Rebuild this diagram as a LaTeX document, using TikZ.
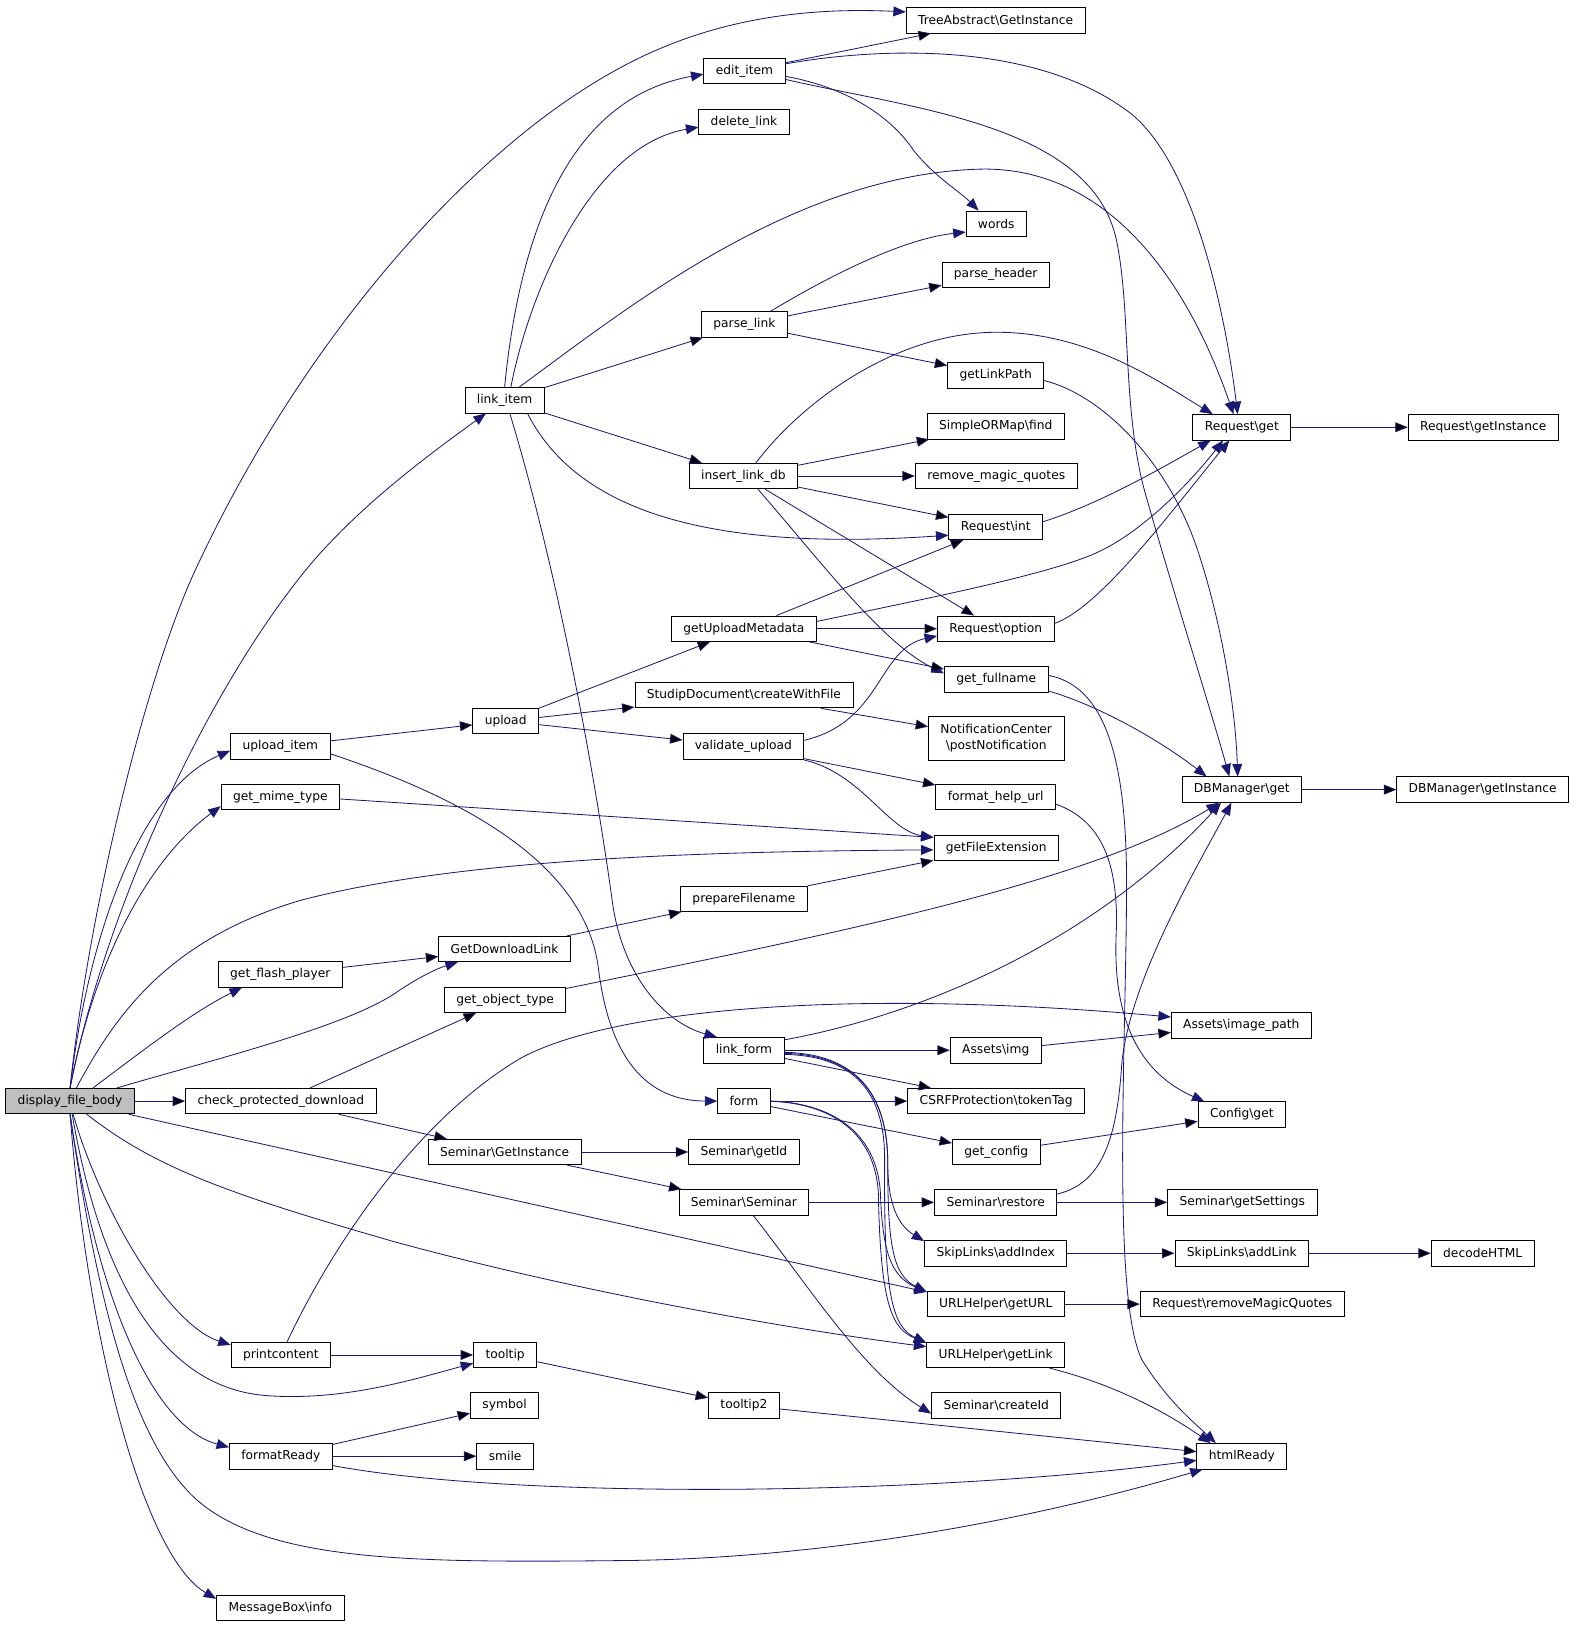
\documentclass[tikz,border=0pt]{standalone}
\usepackage{fontspec}
\setmainfont{DejaVu Sans}
\usetikzlibrary{arrows.meta}
\definecolor{edgeblue}{RGB}{25,25,112}
\tikzset{
  fn/.style={draw=black, line width=0.8pt, fill=white, inner xsep=11.5pt, inner ysep=3pt,
    minimum height=24.5pt, font=\fontsize{11.8}{15}\selectfont},
  root/.style={fn, fill=black!25},
  call/.style={draw=edgeblue, line width=0.8pt, -{Triangle[length=12pt,width=9.5pt]}},
}

\begin{document}
\begin{tikzpicture}[x=1pt, y=-1pt]
\useasboundingbox (0,0) rectangle (1518,1567);

\node [root] (dfb) at (67.5,1060.5) {display\_file\_body};

\node [fn] (uitem)  at (270,719)    {upload\_item};
\node [fn] (mime)   at (270,767.5)  {get\_mime\_type};
\node [fn] (flash)  at (270,938.5)  {get\_flash\_player};
\node [fn] (cpd)    at (270.5,1060.5) {check\_protected\_download};
\node [fn] (pcont)  at (270.5,1305) {printcontent};
\node [fn] (fready) at (270.5,1402.5) {formatReady};
\node [fn] (mbinfo) at (270,1548.5) {MessageBox\textbackslash info};

\node [fn] (litem)  at (486,385.5)  {link\_item};
\node [fn] (upload) at (487,694.5)  {upload};
\node [fn] (gdl)    at (486,914)    {GetDownloadLink};
\node [fn] (gotype) at (486.5,963)  {get\_object\_type};
\node [fn] (semgi)  at (486,1109.5) {Seminar\textbackslash GetInstance};
\node [fn] (ttip)   at (486.5,1305) {tooltip};
\node [fn] (symbol) at (486,1353.5) {symbol};
\node [fn] (smile)  at (486.5,1402.5) {smile};

\node [fn] (eitem)   at (717,68.5)    {edit\_item};
\node [fn] (dlink)   at (716.5,117.5) {delete\_link};
\node [fn] (plink)   at (717,312.5)   {parse\_link};
\node [fn] (ildb)    at (716,458.5)   {insert\_link\_db};
\node [fn] (gumeta)  at (716.5,605.5) {getUploadMetadata};
\node [fn] (sdcwf)   at (716.5,669.5) {StudipDocument\textbackslash createWithFile};
\node [fn] (vupload) at (716,719)     {validate\_upload};
\node [fn] (pfname)  at (716.5,865.5) {prepareFilename};
\node [fn] (lform)   at (716.5,1011.5) {link\_form};
\node [fn] (form)    at (716.5,1060.5) {form};
\node [fn] (semgid)  at (716.5,1109.5) {Seminar\textbackslash getId};
\node [fn] (semsem)  at (716.5,1158)  {Seminar\textbackslash Seminar};
\node [fn] (ttip2)   at (716.5,1353.5) {tooltip2};

\node [fn] (tagi)   at (959,19.5)    {TreeAbstract\textbackslash GetInstance};
\node [fn] (words)  at (959.5,215.5) {words};
\node [fn] (phead)  at (959,264.5)   {parse\_header};
\node [fn] (glp)    at (959,361.5)   {getLinkPath};
\node [fn] (sormf)  at (959,410.5)   {SimpleORMap\textbackslash find};
\node [fn] (rmq)    at (959.5,458.5) {remove\_magic\_quotes};
\node [fn] (rint)   at (959,507.5)   {Request\textbackslash int};
\node [fn] (ropt)   at (959,605.5)   {Request\textbackslash option};
\node [fn] (gfull)  at (959.5,654.5) {get\_fullname};
\node [fn, align=center, minimum height=42pt] (ncpn) at (959.5,711) {NotificationCenter\\\textbackslash postNotification};
\node [fn] (fhu)    at (959,767.5)   {format\_help\_url};
\node [fn] (gfe)    at (959.5,816.5) {getFileExtension};
\node [fn] (aimg)   at (959,1011.5)  {Assets\textbackslash img};
\node [fn] (csrf)   at (959.5,1060.5) {CSRFProtection\textbackslash tokenTag};
\node [fn] (gconf)  at (959.5,1109.5) {get\_config};
\node [fn] (semres) at (959,1158)    {Seminar\textbackslash restore};
\node [fn] (sladdi) at (959,1207)    {SkipLinks\textbackslash addIndex};
\node [fn] (uhurl)  at (959,1256)    {URLHelper\textbackslash getURL};
\node [fn] (uhlink) at (959,1305)    {URLHelper\textbackslash getLink};
\node [fn] (semcid) at (959.5,1353.5) {Seminar\textbackslash createId};

\node [fn] (rget)   at (1196,411.5)   {Request\textbackslash get};
\node [fn] (dbget)  at (1196,760.5)   {DBManager\textbackslash get};
\node [fn] (aimgp)  at (1195.5,987.5) {Assets\textbackslash image\_path};
\node [fn] (cget)   at (1196,1073.5)  {Config\textbackslash get};
\node [fn] (semgs)  at (1196.5,1158)  {Seminar\textbackslash getSettings};
\node [fn] (sladdl) at (1196,1207)    {SkipLinks\textbackslash addLink};
\node [fn] (rrmq)   at (1196.5,1256)  {Request\textbackslash removeMagicQuotes};
\node [fn] (hready) at (1196,1402.5)  {htmlReady};

\node [fn] (rgi)   at (1428.5,411.5) {Request\textbackslash getInstance};
\node [fn] (dbgi)  at (1428,760.5)   {DBManager\textbackslash getInstance};
\node [fn] (dhtml) at (1428,1207)    {decodeHTML};

% display_file_body
\draw [call] (dfb) edge (cpd);
\draw [call] (dfb.north) .. controls (85,880) and (140,650) .. (190,545) .. controls (300,310) and (480,110) .. (640,45) .. controls (720,12) and (800,8) .. ([yshift=8pt]tagi.west);
\draw [call] (dfb.north) .. controls (100,880) and (200,660) .. (302,540) .. controls (350,485) and (410,440) .. ([xshift=-18pt]litem.south);
\draw [call] (dfb.north) .. controls (85,900) and (135,760) .. ([yshift=-4pt]uitem.west);
\draw [call] (dfb.north) .. controls (90,930) and (140,830) .. ([yshift=-9pt]mime.west);
\draw [call] ([xshift=6pt]dfb.north) .. controls (110,980) and (160,905) .. (290,867) .. controls (450,825) and (700,820) .. ([yshift=-2pt]gfe.west);
\draw [call] ([xshift=22pt]dfb.north) .. controls (140,1010) and (185,975) .. ([xshift=-37pt]flash.south);
\draw [call] ([xshift=45pt]dfb.north) .. controls (200,1022) and (330,990) .. (380,957) .. controls (400,943) and (420,933) .. ([xshift=-45pt]gdl.south);
\draw [call] ([xshift=-6pt]dfb.south east) -- ([yshift=-1pt]uhurl.north west);
\draw [call] ([xshift=16pt]dfb.south) .. controls (150,1125) and (220,1150) .. (380,1196) .. controls (560,1245) and (760,1280) .. ([yshift=8pt]uhlink.west);
\draw [call] ([xshift=3pt]dfb.south) .. controls (95,1160) and (160,1275) .. ([yshift=-3pt]pcont.north west);
\draw [call] ([xshift=2pt]dfb.south) .. controls (95,1220) and (150,1335) .. (255,1344) .. controls (330,1350) and (400,1328) .. ([yshift=-8pt]ttip.west);
\draw [call] (dfb.south) .. controls (95,1260) and (150,1375) .. ([yshift=-4pt]fready.north west);
\draw [call] (dfb.south) .. controls (100,1300) and (140,1400) .. (190,1445) .. controls (260,1505) and (400,1505) .. (600,1503) .. controls (800,1501) and (1000,1462) .. ([xshift=6pt]hready.south west);
\draw [call] (dfb.south) .. controls (85,1300) and (140,1500) .. ([yshift=-4pt]mbinfo.north west);

% second column
\draw [call] (cpd) edge (gotype) edge (semgi);
\draw [call] (uitem) edge (upload);
\draw [call] ([yshift=-7pt]uitem.east) .. controls (420,760) and (560,820) .. (576,930) .. controls (582,980) and (600,1060) .. (form.west);
\draw [call] ([yshift=-2pt]mime.east) -- ([yshift=10pt]gfe.west);
\draw [call] (flash) edge (gdl);
\draw [call] (pcont) edge (ttip);
\draw [call] ([xshift=6pt]pcont.north) .. controls (320,1200) and (400,1080) .. (500,1020) .. controls (580,975) and (800,950) .. ([yshift=8pt]aimgp.west);
\draw [call] (fready) edge (symbol) edge (smile);
\draw [call] ([yshift=-9pt]fready.east) .. controls (500,1445) and (900,1440) .. ([yshift=-4pt]hready.west);

% third column
\draw [call] (litem) edge (plink) edge (ildb);
\draw [call] (litem.north) .. controls (500,230) and (545,95) .. ([yshift=-3pt]eitem.west);
\draw [call] ([xshift=6pt]litem.north) .. controls (510,280) and (570,140) .. ([yshift=-5pt]dlink.west);
\draw [call] ([xshift=14pt]litem.north) .. controls (600,300) and (760,170) .. (940,163) .. controls (1060,158) and (1140,260) .. ([xshift=-8pt]rget.north);
\draw [call] ([xshift=22pt]litem.south) .. controls (560,500) and (700,530) .. ([yshift=-8pt]rint.west);
\draw [call] ([xshift=5pt]litem.south) .. controls (540,560) and (575,760) .. (590,870) .. controls (600,940) and (640,985) .. ([xshift=-26pt]lform.north);
\draw [call] (upload) edge (gumeta) edge (sdcwf) edge (vupload);
\draw [call] (gdl) edge (pfname);
\draw [call] ([yshift=11pt]gotype.east) .. controls (800,900) and (1050,850) .. ([xshift=-22pt]dbget.south);
\draw [call] (semgi) edge (semgid) edge (semsem);
\draw [call] (ttip) edge (ttip2);

% fourth column
\draw [call] (eitem) edge (tagi);
\draw [call] ([yshift=7pt]eitem.east) .. controls (850,45) and (1000,40) .. (1090,110) .. controls (1150,160) and (1180,300) .. ([xshift=-4pt]rget.north);
\draw [call] ([yshift=-5pt]eitem.east) .. controls (820,85) and (860,115) .. (880,145) .. controls (900,170) and (925,185) .. ([xshift=-17pt]words.north);
\draw [call] ([yshift=-8pt]eitem.east) .. controls (880,105) and (1050,120) .. (1075,230) .. controls (1090,300) and (1080,400) .. (1105,482) .. controls (1130,570) and (1165,680) .. ([xshift=-12pt]dbget.north);
\draw [call] (plink) edge (phead) edge (glp);
\draw [call] ([xshift=25pt]plink.north) .. controls (800,265) and (870,230) .. ([yshift=-8pt]words.west);
\draw [call] (ildb) edge (sormf) edge (rmq) edge (rint) edge (ropt);
\draw [call] ([xshift=12pt]ildb.north) .. controls (770,390) and (860,320) .. (960,320) .. controls (1050,320) and (1120,370) .. ([xshift=-28pt]rget.north);
\draw [call] ([xshift=14pt]ildb.south) .. controls (790,540) and (850,620) .. ([yshift=6pt]gfull.west);
\draw [call] (gumeta) edge (rint) edge (ropt) edge (gfull);
\draw [call] ([yshift=7pt]gumeta.east) .. controls (900,575) and (1000,555) .. (1050,535) .. controls (1100,515) and (1150,460) .. ([xshift=-18pt]rget.south);
\draw [call] (sdcwf) edge (ncpn);
\draw [call] (vupload) edge (fhu);
\draw [call] ([yshift=6pt]vupload.east) .. controls (850,695) and (845,625) .. ([yshift=-7pt]ropt.west);
\draw [call] ([yshift=-13pt]vupload.east) .. controls (830,745) and (855,800) .. ([yshift=10pt]gfe.west);
\draw [call] (pfname) edge (gfe);
\draw [call] (lform) edge (aimg) edge (csrf);
\draw [call] ([yshift=10pt]lform.east) .. controls (900,975) and (1060,900) .. ([xshift=-20pt]dbget.south);
\draw [call] ([yshift=-2pt]lform.east) .. controls (830,1015) and (855,1060) .. (855,1120) .. controls (855,1160) and (865,1180) .. ([yshift=-1pt]sladdi.north west);
\draw [call] ([yshift=-3pt]lform.east) .. controls (830,1016) and (855,1060) .. (855,1120) .. controls (855,1200) and (860,1228) .. ([yshift=-1pt]uhurl.north west);
\draw [call] ([yshift=-4pt]lform.east) .. controls (830,1017) and (853,1060) .. (852,1120) .. controls (851,1250) and (860,1278) .. ([yshift=-1pt]uhlink.north west);
\draw [call] (form) edge (csrf) edge (gconf);
\draw [call] (form.east) .. controls (800,1062) and (845,1090) .. (848,1150) .. controls (850,1210) and (860,1230) .. ([yshift=-1pt]uhurl.north west);
\draw [call] (form.east) .. controls (800,1063) and (843,1090) .. (846,1150) .. controls (848,1260) and (860,1280) .. ([yshift=-1pt]uhlink.north west);
\draw [call] (semsem) edge (semres);
\draw [call] ([xshift=9pt]semsem.south) .. controls (780,1240) and (830,1320) .. ([yshift=-8pt]semcid.west);
\draw [call] (ttip2) edge (hready);

% fifth column
\draw [call] ([yshift=-5pt]glp.east) .. controls (1060,380) and (1120,440) .. (1150,520) .. controls (1175,590) and (1190,680) .. ([xshift=-4pt]dbget.north);
\draw [call] ([yshift=5pt]rint.east) .. controls (1060,485) and (1120,450) .. ([xshift=-30pt]rget.south);
\draw [call] ([yshift=5pt]ropt.east) .. controls (1060,585) and (1130,490) .. ([xshift=-12pt]rget.south);
\draw [call] ([yshift=-11pt]gfull.east) .. controls (1060,680) and (1120,715) .. ([xshift=-34pt]dbget.north);
\draw [call] ([yshift=4pt]gfull.east) .. controls (1060,660) and (1085,720) .. (1085,850) .. controls (1085,1000) and (1070,1250) .. (1100,1310) .. controls (1125,1350) and (1150,1370) .. ([xshift=-25pt]hready.north);
\draw [call] ([yshift=-7pt]fhu.east) .. controls (1060,790) and (1078,830) .. (1075,900) .. controls (1072,970) and (1090,1030) .. ([xshift=-36pt]cget.north);
\draw [call] (aimg) edge (aimgp);
\draw [call] (gconf) edge (cget);
\draw [call] (semres) edge (semgs);
\draw [call] ([yshift=8pt]semres.east) .. controls (1060,1140) and (1075,1100) .. (1080,1030) .. controls (1085,950) and (1150,840) .. ([xshift=-10pt]dbget.south);
\draw [call] (sladdi) edge (sladdl);
\draw [call] (uhurl) edge (rrmq);
\draw [call] ([xshift=-15pt]uhlink.south east) .. controls (1080,1335) and (1130,1365) .. ([xshift=-30pt]hready.north);

% last columns
\draw [call] (rget) edge (rgi);
\draw [call] (dbget) edge (dbgi);
\draw [call] (sladdl) edge (dhtml);
\end{tikzpicture}
\end{document}
